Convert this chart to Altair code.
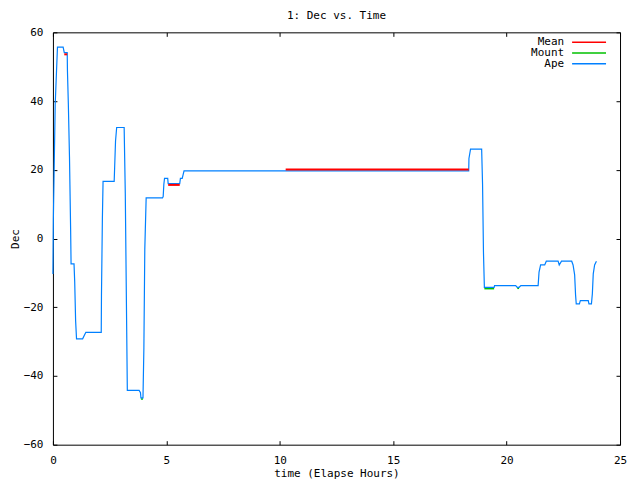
import altair as alt
import pandas as pd

# Ape series (hours, Dec)
ape_t = [0.00, 0.02, 0.10, 0.20, 0.45, 0.50, 0.63, 0.64, 0.68, 0.73, 0.78, 0.80, 0.93, 0.96, 1.00, 1.04,
         1.31, 1.45, 2.13, 2.14, 2.18, 2.21, 2.70, 2.72, 2.76, 2.81, 3.14, 3.19, 3.25, 3.28, 3.80, 3.86,
         3.88, 3.97, 4.01, 4.05, 4.11, 4.83, 4.86, 4.89, 4.92, 5.06, 5.08, 5.59, 5.62, 5.70, 5.78, 10.26,
         18.33, 18.34, 18.41, 18.90, 18.94, 18.98, 19.02, 19.45, 19.47, 20.40, 20.47, 20.55, 20.63, 21.39,
         21.43, 21.50, 21.68, 21.75, 22.27, 22.32, 22.42, 22.87, 22.93, 23.00, 23.04, 23.07, 23.21, 23.25,
         23.60, 23.63, 23.74, 23.78, 23.82, 23.88, 23.96]
ape_dec = [-10.3, 6.0, 39.0, 55.7, 55.7, 54.1, 54.1, 48.8, 39.0, 23.7, 2.8, -7.4, -7.4, -12.6, -23.9, -29.2,
           -29.2, -27.3, -27.3, -16.6, 5.7, 16.6, 16.6, 20.5, 28.4, 32.3, 32.3, 13.1, -25.3, -44.2, -44.2, -44.9,
           -46.4, -46.4, -31.8, -3.1, 11.8, 11.8, 12.2, 15.8, 17.5, 17.5, 16.0, 16.0, 17.5, 17.5, 19.7, 19.7,
           19.7, 23.3, 26.0, 26.0, 15.8, -4.0, -14.2, -14.2, -13.7, -13.7, -14.2, -14.2, -13.7, -13.7,
           -9.8, -7.7, -7.7, -6.6, -6.6, -7.7, -6.6, -6.6, -7.7, -10.6, -16.4, -19.0, -19.0, -18.1,
           -18.1, -19.0, -19.0, -16.1, -10.3, -7.7, -6.6]

# Mean series (segments)
mean_t = [0.50, 0.63, 5.08, 5.59, 10.26, 18.33]
mean_dec = [53.6, 53.6, 15.6, 15.6, 20.1, 20.1]
mean_seg = [0, 0, 1, 1, 2, 2]

# Mount series (segments)
mount_t = [3.88, 3.97, 19.02, 19.45, 20.47, 20.55]
mount_dec = [-46.7, -46.7, -14.6, -14.6, -14.5, -14.5]
mount_seg = [0, 0, 1, 1, 2, 2]

x_ticks = [0, 5, 10, 15, 20, 25]
y_ticks = [-60, -40, -20, 0, 20, 40, 60]
x_range = [0, 25]
y_range = [-60, 60]

legend_names = ["Mean", "Mount", "Ape"]
legend_colors = ["#ff0000", "#00c000", "#0080ff"]

FONT = "DejaVu Sans Mono"
FS = 11
W, H = 568, 413
TL = 4
BLK = "#000000"

xs = alt.Scale(domain=x_range, nice=False, zero=False)
ys = alt.Scale(domain=y_range, nice=False, zero=False)

ape = pd.DataFrame({"t": ape_t, "dec": ape_dec})
mean = pd.DataFrame({"t": mean_t, "dec": mean_dec, "seg": mean_seg})
mount = pd.DataFrame({"t": mount_t, "dec": mount_dec, "seg": mount_seg})
frame = pd.DataFrame({"t": x_range, "dec": y_range})

# Main axes: labels + inward ticks (negative offset pulls the tick row inside the frame)
xaxis = alt.Axis(orient="bottom", offset=-TL, values=x_ticks, domain=False,
                 ticks=True, tickColor=BLK, tickSize=TL, tickWidth=1, grid=False,
                 labelPadding=10, labelFlush=False, labelFont=FONT, labelFontSize=FS,
                 labelColor="black", title="time (Elapse Hours)", titleFont=FONT,
                 titleFontSize=FS, titleFontWeight="normal", titleColor="black", titlePadding=2)
yaxis = alt.Axis(orient="left", offset=-TL, values=y_ticks, domain=False,
                 ticks=True, tickColor=BLK, tickSize=TL, tickWidth=1, grid=False,
                 labelPadding=10, labelFlush=False, labelFont=FONT, labelFontSize=FS,
                 labelColor="black", title="Dec", titleFont=FONT, titleFontSize=FS,
                 titleFontWeight="normal", titleColor="black", titlePadding=3)

# Mirrored inward ticks on top / right
xaxis_top_ticks = alt.Axis(orient="top", offset=-TL, values=x_ticks, domain=False, ticks=True,
                           tickColor=BLK, tickSize=TL, tickWidth=1, labels=False, grid=False,
                           title=None)
yaxis_right_ticks = alt.Axis(orient="right", offset=-TL, values=y_ticks, domain=False, ticks=True,
                             tickColor=BLK, tickSize=TL, tickWidth=1, labels=False, grid=False,
                             title=None)
# Frame: domain lines on all four sides
xaxis_bottom_dom = alt.Axis(orient="bottom", domain=True, domainColor=BLK, domainWidth=1,
                            ticks=False, labels=False, grid=False, title=None)
yaxis_left_dom = alt.Axis(orient="left", domain=True, domainColor=BLK, domainWidth=1,
                          ticks=False, labels=False, grid=False, title=None)
xaxis_top_dom = alt.Axis(orient="top", domain=True, domainColor=BLK, domainWidth=1,
                         ticks=False, labels=False, grid=False, title=None)
yaxis_right_dom = alt.Axis(orient="right", domain=True, domainColor=BLK, domainWidth=1,
                           ticks=False, labels=False, grid=False, title=None)

mount_line = alt.Chart(mount).mark_line(color="#00c000", strokeWidth=1.5).encode(
    x=alt.X("t:Q", scale=xs, axis=None), y=alt.Y("dec:Q", scale=ys, axis=None),
    detail="seg:N", order="t:Q")
base_ape = alt.Chart(ape).mark_line(color="#0080ff", strokeWidth=1.2).encode(
    x=alt.X("t:Q", scale=xs, axis=xaxis),
    y=alt.Y("dec:Q", scale=ys, axis=yaxis),
    order="t:Q")
mean_line = alt.Chart(mean).mark_line(color="#ff0000", strokeWidth=2).encode(
    x=alt.X("t:Q", scale=xs, axis=None), y=alt.Y("dec:Q", scale=ys, axis=None),
    detail="seg:N", order="t:Q")

frame_ticks = alt.Chart(frame).mark_point(opacity=0).encode(
    x=alt.X("t:Q", scale=xs, axis=xaxis_top_ticks),
    y=alt.Y("dec:Q", scale=ys, axis=yaxis_right_ticks))
frame_bl = alt.Chart(frame).mark_point(opacity=0).encode(
    x=alt.X("t:Q", scale=xs, axis=xaxis_bottom_dom),
    y=alt.Y("dec:Q", scale=ys, axis=yaxis_left_dom))
frame_tr = alt.Chart(frame).mark_point(opacity=0).encode(
    x=alt.X("t:Q", scale=xs, axis=xaxis_top_dom),
    y=alt.Y("dec:Q", scale=ys, axis=yaxis_right_dom))

layers = [mount_line, base_ape, mean_line, frame_ticks, frame_bl, frame_tr]

for i, (name, col) in enumerate(zip(legend_names, legend_colors)):
    ld = pd.DataFrame({"name": [name]})
    yy = 10 + 10.7 * i
    layers.append(alt.Chart(ld).mark_text(align="right", baseline="middle", font=FONT,
                                          fontSize=FS, color="black").encode(
        text="name:N", x=alt.value(512), y=alt.value(yy)))
    layers.append(alt.Chart(ld).mark_rule(color=col, strokeWidth=1.5).encode(
        x=alt.value(520), x2=alt.value(554), y=alt.value(yy)))

chart = alt.layer(*layers).resolve_axis(x="independent", y="independent").properties(
    width=W, height=H,
    background="white",
    title=alt.TitleParams("1: Dec vs. Time", font=FONT, fontSize=FS, fontWeight="normal",
                          color="black", offset=5),
    padding={"left": 1, "top": 2, "right": 5, "bottom": 5},
).configure_view(strokeWidth=0)

chart.save("out.html", embed_options={"renderer": "svg", "actions": False})
